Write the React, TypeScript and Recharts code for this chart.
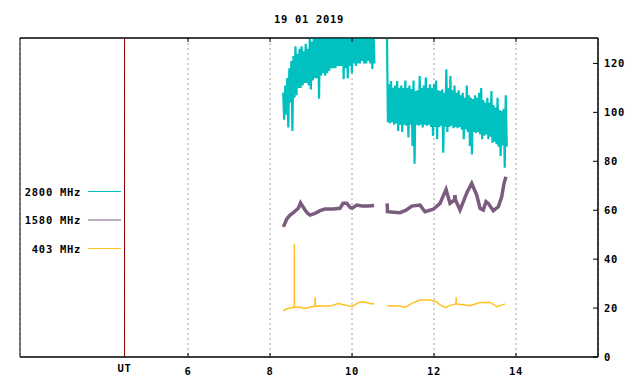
import React from 'react';
import {
  ComposedChart,
  Line,
  XAxis,
  YAxis,
  CartesianGrid,
  ReferenceLine,
  ReferenceArea,
  Customized,
} from 'recharts';

// ---------- data ----------
const chartTitle = '19 01 2019';
const xDomain = [1.9, 16];
const yDomain = [0, 130.4];
const utMarker = 4.45;
const xTicks = [utMarker, 6, 8, 10, 12, 14];
const xTickLabels = ['UT', '6', '8', '10', '12', '14'];
const yTicks = [0, 20, 40, 60, 80, 100, 120];

const seriesNames = ['2800 MHz', '1580 MHz', '403 MHz'];
const seriesColors = ['#00c0c0', '#7a5c7e', '#ffc020'];

// 2800 MHz: sampled envelope (upper / lower) every 0.05 h
const cyanStep = 0.05;
const cyanSeg1Start = 8.32;
const cyanSeg1Hi = [
  108, 111, 114, 118, 121, 123, 127, 124, 126, 127, 125, 128, 126, 131, 129, 133,
  130.5, 135, 136, 135, 136, 135, 136, 135, 136, 135, 136, 135, 136, 135, 136, 135,
  136, 135, 136, 135, 136, 135, 136, 135, 136, 135, 136, 135, 136,
];
const cyanSeg1Lo = [
  97, 99, 93.8, 104, 92.4, 106, 107, 110, 110, 111, 112, 112, 111, 109.4, 113, 114,
  114, 105.6, 115, 116, 115, 116, 117, 118, 118, 118, 119, 119, 119, 113.5, 118, 114,
  119, 116, 120, 119, 120, 120, 121, 120, 120, 121, 120, 117.7, 120,
];
const cyanGapAt = 10.7;
const cyanSeg2Start = 10.85;
const cyanSeg2Hi = [
  135, 111.5, 112.8, 110, 111, 112.8, 110, 111, 110, 113, 110, 111, 109.5, 113, 108.7,
  109, 114.9, 110, 111, 114.2, 110, 111.5, 110, 111.5, 113, 109, 108.7, 109.4, 108,
  117.6, 110, 114.9, 109, 111, 108, 109, 107, 108, 106, 111, 107, 106, 105.5, 107, 106,
  108, 110, 105, 104, 106, 104, 108.7, 103, 102, 106, 101, 100.5, 101.5, 107,
];
const cyanSeg2Lo = [
  96, 95.5, 96, 95, 95.5, 92.4, 95, 92, 95, 94.5, 89.7, 95, 86.3, 79, 95, 94.5, 95,
  93.8, 95, 94.5, 95, 94, 90.4, 94, 89, 94, 94.5, 83.5, 94, 92, 94, 94.5, 93.5, 94,
  93.5, 94, 93, 89, 93, 92, 86.3, 82.8, 92, 91.5, 92, 91, 89, 90.5, 91, 89, 90, 87.6,
  88, 87, 86, 82.2, 86.5, 77.4, 86,
];

// 1580 MHz
const purpleTimes = [
  8.324, 8.366, 8.407, 8.488, 8.568, 8.634, 8.69, 8.744, 8.78, 8.854, 8.915, 8.976,
  9.098, 9.22, 9.341, 9.537, 9.707, 9.78, 9.871, 9.951, 10.0, 10.115, 10.244, 10.39,
  10.537,
  10.7,
  10.855, 10.865, 11.171, 11.317, 11.456, 11.659, 11.78, 11.983, 12.146, 12.293, 12.39,
  12.5, 12.512, 12.524, 12.634, 12.812, 12.92, 13.041, 13.122, 13.202, 13.268, 13.324,
  13.446, 13.568, 13.651, 13.707, 13.756,
];
const purpleValues = [
  53.2, 54.8, 56.4, 58, 59, 60, 60.8, 63, 62, 60.1, 58.8, 58, 58.7, 59.8, 60.5, 60.5,
  60.8, 62.8, 62.8, 61.2, 60.8, 62.1, 61.7, 61.7, 61.9,
  null,
  62.8, 59.4, 59, 60, 61.7, 62.1, 59.4, 60.4, 62.8, 68.5, 62.8, 64.2, 66.2, 64.2, 60.1,
  67.6, 71, 66.2, 60.8, 60.1, 63.5, 62.8, 59.8, 61.4, 65.5, 71, 73.7,
];

// 403 MHz
const orangeTimes = [
  8.32, 8.4, 8.49, 8.59, 8.593, 8.596, 8.73, 8.85, 9.04, 9.095, 9.1, 9.105, 9.22, 9.46,
  9.66, 9.83, 10.0, 10.15, 10.27, 10.44, 10.54,
  10.7,
  10.86, 11.17, 11.29, 11.46, 11.66, 11.9, 12.05, 12.15, 12.27, 12.44, 12.535, 12.54,
  12.545, 12.76, 12.88, 13.12, 13.37, 13.54, 13.73,
];
const orangeValues = [
  18.9, 19.6, 20, 20.3, 46.2, 20.3, 20.3, 19.8, 20.6, 20.7, 24.4, 20.7, 20.8, 20.8,
  21.9, 21.3, 20.6, 22.2, 22.6, 21.9, 21.7,
  null,
  21, 20.8, 20.3, 21.9, 23.3, 23.3, 22.6, 21.3, 20.3, 21.3, 21.7, 24.4, 21.7, 21.3, 21,
  22.3, 22.3, 20.6, 21.7,
];

// ---------- tables built from the arrays ----------
const zigzag = (start: number, step: number, hi: number[], lo: number[]) =>
  hi.flatMap((h, i) => [
    { t: start + i * step, v: h },
    { t: start + i * step + step / 2, v: lo[i] },
  ]);

const cyanData = [
  ...zigzag(cyanSeg1Start, cyanStep, cyanSeg1Hi, cyanSeg1Lo),
  { t: cyanGapAt, v: null },
  ...zigzag(cyanSeg2Start, cyanStep, cyanSeg2Hi, cyanSeg2Lo),
];
const purpleData = purpleTimes.map((t, i) => ({ t, v: purpleValues[i] }));
const orangeData = orangeTimes.map((t, i) => ({ t, v: orangeValues[i] }));

// ---------- styles ----------
const FONT = {
  fontFamily: '"DejaVu Sans Mono", "Liberation Mono", monospace',
  fontWeight: 'bold' as const,
  fontSize: 10.5,
  letterSpacing: 0.7,
};

const BottomTick = (props: any) => {
  const { x, y, payload, index } = props;
  const label = xTickLabels[xTicks.indexOf(payload.value)] ?? String(payload.value);
  const isUT = index === 0 || label === 'UT';
  return (
    <g>
      {!isUT && <line x1={x} x2={x} y1={y - 18} y2={y - 22} stroke="#000" />}
      <text x={x} y={isUT ? y - 3 : y} textAnchor="middle" fill="#000" style={FONT}>
        {label}
      </text>
    </g>
  );
};

const TopTick = (props: any) => {
  const { x, y, index } = props;
  if (index === 0) return <g />;
  return <line x1={x} x2={x} y1={y} y2={y + 4} stroke="#000" />;
};

const RightTick = (props: any) => {
  const { x, y, payload } = props;
  return (
    <g>
      <line x1={x - 6} x2={x - 11} y1={y} y2={y} stroke="#000" />
      <text x={x} y={y} dy={3.5} textAnchor="start" fill="#000" style={FONT}>
        {payload.value}
      </text>
    </g>
  );
};

const Decorations = () => (
  <g>
    <text x={309} y={23} textAnchor="middle" fill="#000" style={FONT}>
      {chartTitle}
    </text>
    {seriesNames.map((name, i) => (
      <g key={name}>
        <text x={81} y={195.5 + i * 28.5} textAnchor="end" fill="#000" style={FONT}>
          {name}
        </text>
        <line
          x1={88}
          x2={121}
          y1={191.5 + i * 28.5}
          y2={191.5 + i * 28.5}
          stroke={seriesColors[i]}
          strokeWidth={1}
        />
      </g>
    ))}
  </g>
);

export default function App() {
  return (
    <div style={{ position: 'absolute', left: 0, top: 0, background: '#fff' }}>
      <ComposedChart
        width={640}
        height={384}
        margin={{ top: 30, right: 0, bottom: 0, left: 20 }}
      >
        <CartesianGrid
          vertical={true}
          horizontal={false}
          stroke="#a0a0a0"
          strokeDasharray="2 3"
        />
        <XAxis
          xAxisId={0}
          type="number"
          dataKey="t"
          domain={xDomain}
          ticks={xTicks}
          allowDataOverflow
          orientation="bottom"
          height={27}
          tickSize={0}
          tickMargin={18}
          tickLine={false}
          axisLine={{ stroke: '#000' }}
          tick={<BottomTick />}
          interval={0}
        />
        <XAxis
          xAxisId="top"
          type="number"
          dataKey="t"
          domain={xDomain}
          ticks={xTicks}
          allowDataOverflow
          orientation="top"
          height={8}
          tickSize={0}
          tickMargin={0}
          tickLine={false}
          axisLine={{ stroke: '#000' }}
          tick={<TopTick />}
          interval={0}
        />
        <YAxis
          type="number"
          orientation="right"
          domain={yDomain}
          ticks={yTicks}
          allowDataOverflow
          width={42}
          tickSize={0}
          tickMargin={6}
          tickLine={false}
          axisLine={{ stroke: '#000' }}
          tick={<RightTick />}
          interval={0}
        />
        <ReferenceArea
          x1={xDomain[0]}
          x2={xDomain[1]}
          y1={yDomain[0]}
          y2={yDomain[1]}
          fill="none"
          stroke="#000"
          strokeWidth={1}
          ifOverflow="visible"
        />
        <ReferenceLine x={utMarker} stroke="#8b0000" strokeWidth={1} />
        <Line
          data={cyanData}
          dataKey="v"
          type="linear"
          stroke={seriesColors[0]}
          strokeWidth={2.2}
          strokeLinejoin="miter"
          dot={false}
          activeDot={false}
          connectNulls={false}
          isAnimationActive={false}
        />
        <Line
          data={purpleData}
          dataKey="v"
          type="linear"
          stroke={seriesColors[1]}
          strokeWidth={3.5}
          dot={false}
          activeDot={false}
          connectNulls={false}
          isAnimationActive={false}
        />
        <Line
          data={orangeData}
          dataKey="v"
          type="linear"
          stroke={seriesColors[2]}
          strokeWidth={1.5}
          dot={false}
          activeDot={false}
          connectNulls={false}
          isAnimationActive={false}
        />
        <Customized component={Decorations} />
      </ComposedChart>
    </div>
  );
}
